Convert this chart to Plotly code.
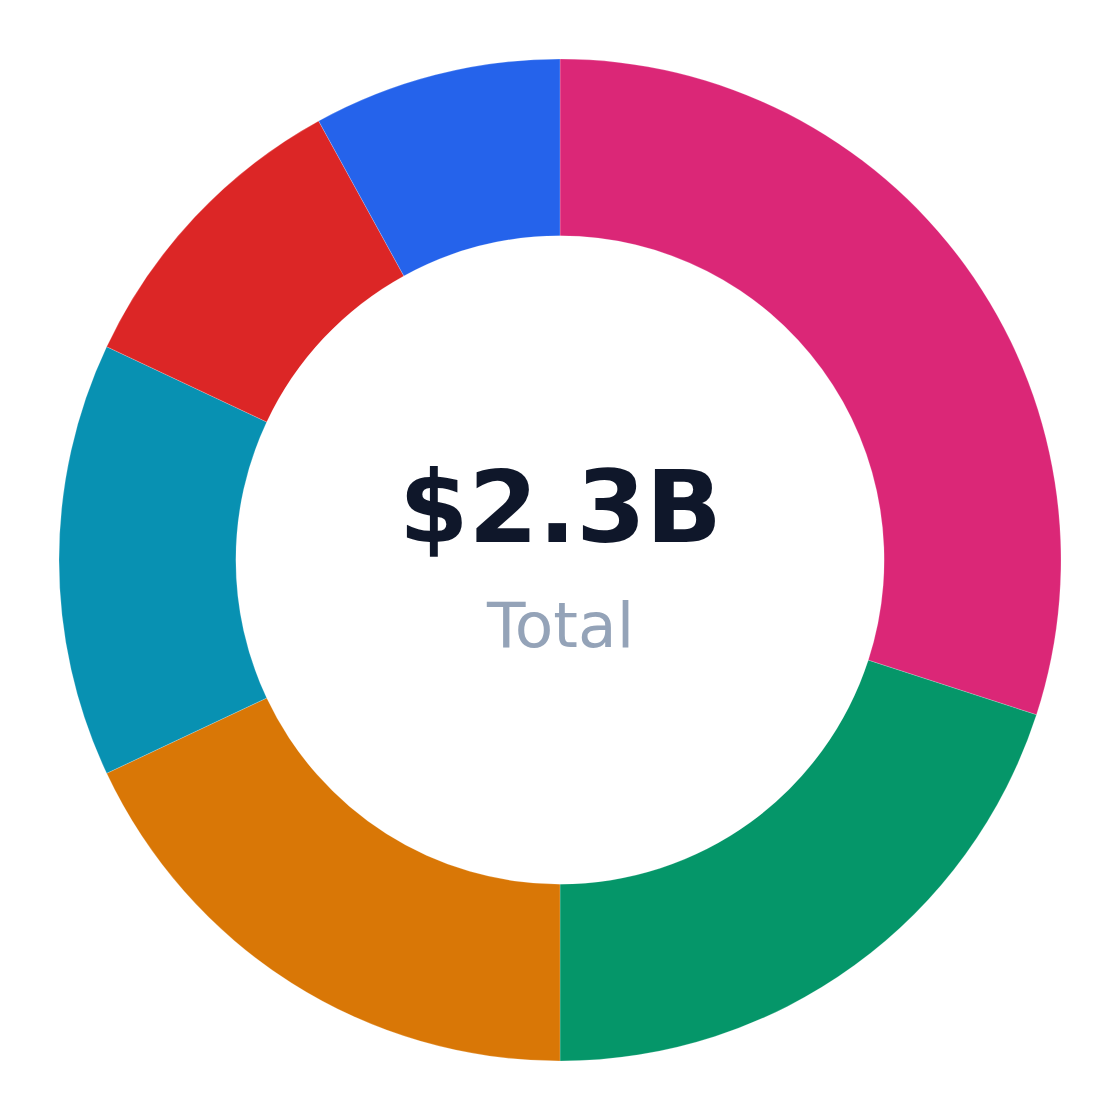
import plotly.graph_objects as go

categories = ["Segment A", "Segment B", "Segment C", "Segment D", "Segment E", "Segment F"]
values = [690, 460, 414, 322, 230, 184]  # $M, total ≈ $2.3B
colors = ["#db2777", "#059669", "#d97706", "#0891b2", "#dc2626", "#2563eb"]
center_value = "$2.3B"
center_label = "Total"

fig = go.Figure(go.Pie(
    labels=categories,
    values=values,
    hole=0.647,
    sort=False,
    direction="clockwise",
    rotation=0,
    marker=dict(colors=colors, line=dict(color="rgba(255,255,255,0.4)", width=0.5)),
    textinfo="none",
    hoverinfo="label+value+percent",
    showlegend=False,
))

fig.add_annotation(text=f"<b>{center_value}</b>", x=0.5, y=0.5, xref="paper", yref="paper",
                   yshift=53, showarrow=False,
                   font=dict(family="DejaVu Sans", size=100, color="#0f172a"))
fig.add_annotation(text=center_label, x=0.5, y=0.5, xref="paper", yref="paper",
                   yshift=-65, showarrow=False,
                   font=dict(family="DejaVu Sans", size=63, color="#94a3b8"))

fig.update_layout(
    width=1104, height=1104,
    margin=dict(l=51, r=51, t=51, b=51),
    paper_bgcolor="white", plot_bgcolor="white",
    font=dict(family="DejaVu Sans"),
)

fig.write_html("out.html")
